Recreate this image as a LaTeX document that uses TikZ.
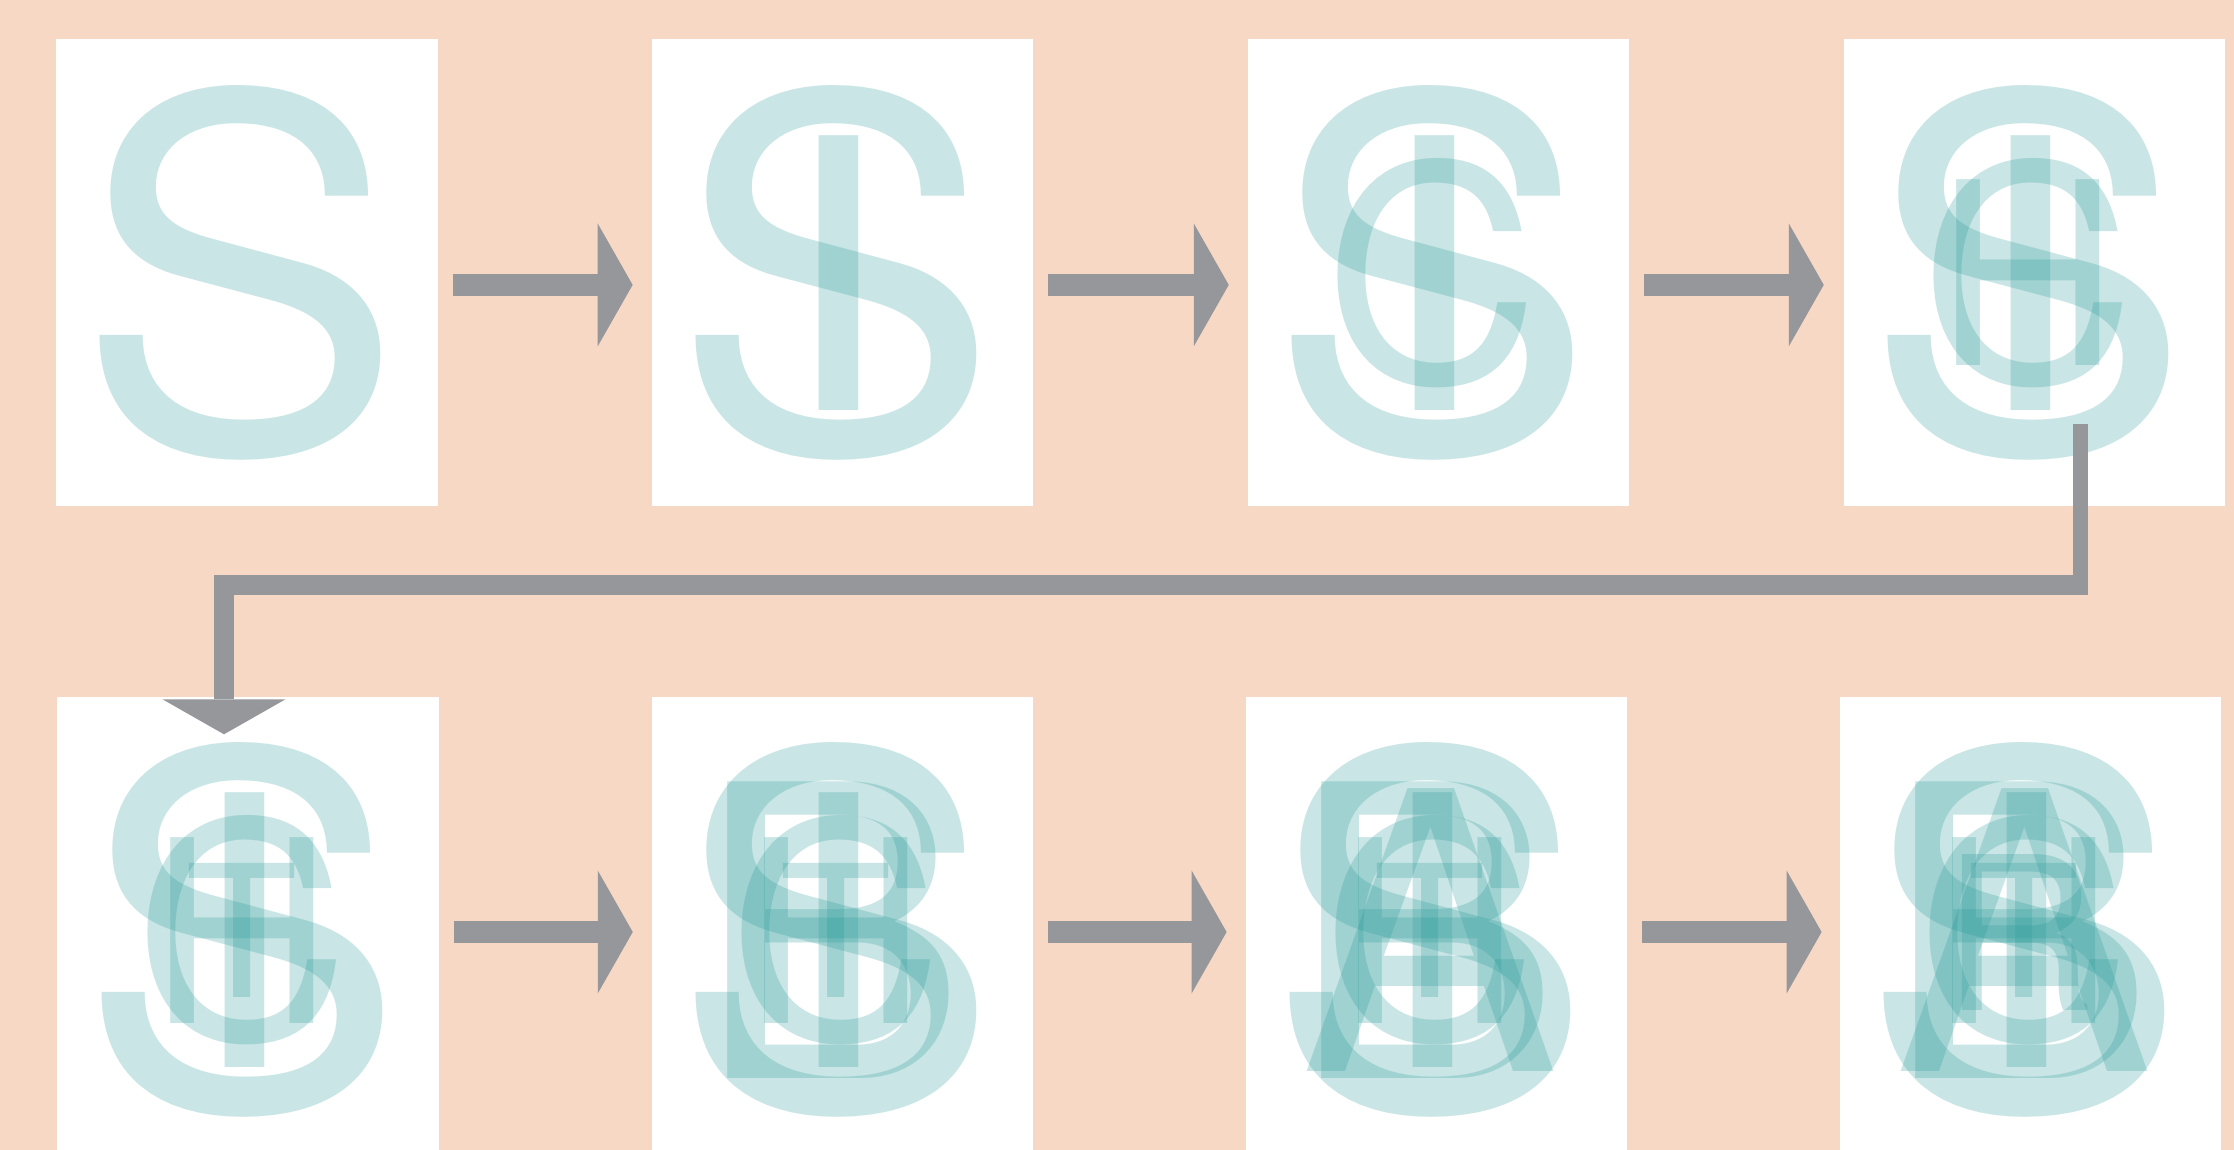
\documentclass[tikz,border=0pt]{standalone}
\usepackage{fontspec}
\setmainfont{TeX Gyre Heros}
\usetikzlibrary{arrows.meta,calc}
\definecolor{peach}{RGB}{247,216,197}
\definecolor{arrowgray}{RGB}{150,151,155}
\definecolor{tealink}{RGB}{36,152,150}
\begin{document}
\begin{tikzpicture}[x=1pt,y=-1pt,
  panel/.style={fill=white, draw=none, minimum width=381.5pt, minimum height=467pt, inner sep=0pt, outer sep=0pt},
  ltr/.style={text=tealink, text opacity=0.245, inner sep=0pt, outer sep=0pt, anchor=center},
  lS/.style={ltr, font=\fontsize{490}{490}\selectfont},
  lI/.style={ltr, font=\fontsize{377}{377}\selectfont},
  lC/.style={ltr, font=\fontsize{300}{300}\selectfont},
  lH/.style={ltr, font=\fontsize{255}{255}\selectfont},
  lT/.style={ltr, font=\fontsize{184}{184}\selectfont},
  lB/.style={ltr, font=\fontsize{407}{407}\selectfont},
  lA/.style={ltr, font=\fontsize{388}{388}\selectfont},
  lR/.style={ltr, font=\fontsize{214}{214}\selectfont},
  arr/.style={draw=arrowgray, line width=22pt, line cap=butt,
    -{Triangle[length=35pt,width=123pt,line width=0pt]}},
  conn/.style={draw=arrowgray, line width=20.5pt, line join=miter, line cap=butt,
    -{Triangle[length=35pt,width=123pt,line width=0pt]}},
]
\clip (0,0) rectangle (2234,1150);
\fill[peach] (0,0) rectangle (2234,1150);

% panels
\node[panel] (p1) at (246.85,272.9) {};
\node[panel] (p2) at (842.4,272.9) {};
\node[panel] (p3) at (1438.5,272.9) {};
\node[panel] (p4) at (2034.5,272.9) {};
\node[panel] (p5) at (248,930.3) {};
\node[panel] (p6) at (842.5,930.3) {};
\node[panel] (p7) at (1436.35,930.3) {};
\node[panel] (p8) at (2030.35,930.3) {};

% letters
\foreach \k in {1,...,8} \node[lS] (S\k) at ($(p\k.center)+(-6.5,0)$) {S};
\foreach \k in {2,...,8} \node[lI] (I\k) at ($(p\k.center)+(-6.5,0)$) {\scalebox{1.13}[1]{I}};
\foreach \k in {3,...,8} \node[lC] (C\k) at ($(p\k.center)+(-6.5,0)$) {C};
\foreach \k in {4,...,8} \node[lH] (H\k) at ($(p\k.center)+(-6.5,0)$) {H};
\foreach \k in {5,...,8} \node[lT] (T\k) at ($(p\k.center)+(-6.5,0)$) {T};
\foreach \k in {6,...,8} \node[lB] (B\k) at ($(p\k.center)+(-11,0)$) {B};
\foreach \k in {7,...,8} \node[lA] (A\k) at ($(p\k.center)+(-6.5,0)$) {A};
\node[lR] (R8) at ($(p8.center)+(-11,2)$) {R};

% arrows between panels
\draw[arr] ($(p1.east)+(15,12)$) -- ($(p2.west)+(-19,12)$);
\draw[arr] ($(p2.east)+(15,12)$) -- ($(p3.west)+(-19,12)$);
\draw[arr] ($(p3.east)+(15,12)$) -- ($(p4.west)+(-20,12)$);
\draw[arr] ($(p5.east)+(15,1.7)$) -- ($(p6.west)+(-19,1.7)$);
\draw[arr] ($(p6.east)+(15,1.7)$) -- ($(p7.west)+(-19,1.7)$);
\draw[arr] ($(p7.east)+(15,1.7)$) -- ($(p8.west)+(-18,1.7)$);

% connector from panel 4 to panel 5
\coordinate (cstart) at ($(p4.south)+(46,-82.5)$);
\coordinate (cbend) at ($(p5.north)+(-24,-112)$);
\coordinate (cend) at ($(p5.north)+(-24,37.5)$);
\draw[arrowgray, line width=15.5pt, line cap=butt] (cstart) -- (cstart |- cbend);
\draw[conn] ($(cstart |- cbend)+(7.75,0)$) -| (cbend) -- (cend);
\end{tikzpicture}
\end{document}
